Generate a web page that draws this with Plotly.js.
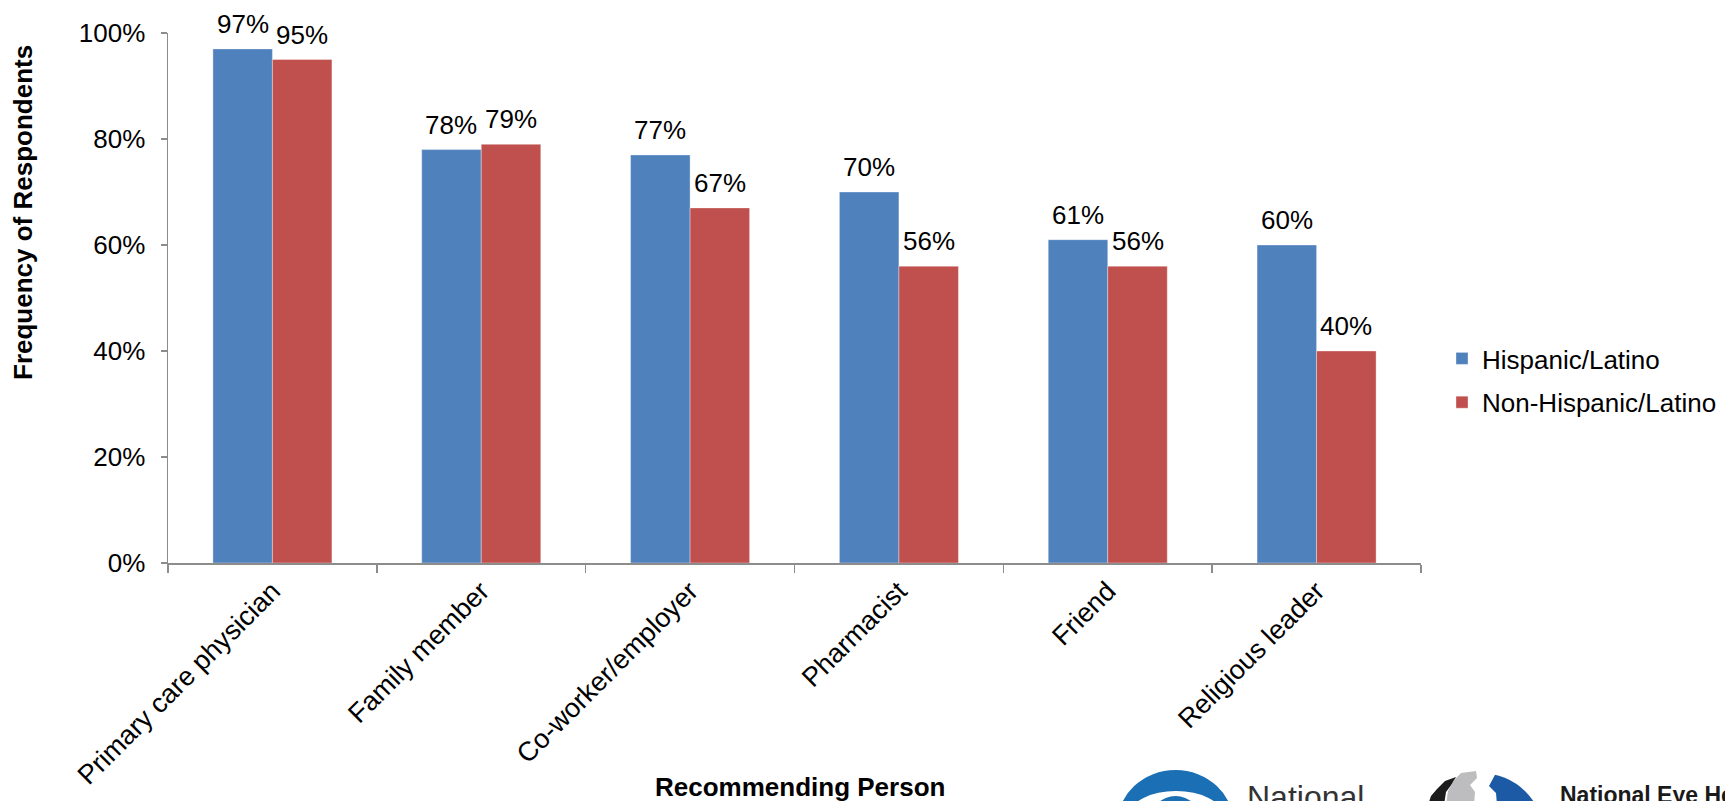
<!DOCTYPE html>
<html>
<head>
<meta charset="utf-8">
<script src="https://cdn.plot.ly/plotly-3.0.1.min.js"></script>
<style>
  html, body { margin: 0; padding: 0; background: #ffffff; overflow: hidden; }
  #chart { width: 1725px; height: 801px; }
</style>
</head>
<body>
<div id="chart"></div>
<script>
// ---- Data ----
const categories = ["Primary care physician", "Family member", "Co-worker/employer", "Pharmacist", "Friend", "Religious leader"];
const hispanicValues = [0.97, 0.78, 0.77, 0.70, 0.61, 0.60];
const nonHispanicValues = [0.95, 0.79, 0.67, 0.56, 0.56, 0.40];
const seriesNames = ["Hispanic/Latino", "Non-Hispanic/Latino"];
const yTickValues = [0, 0.2, 0.4, 0.6, 0.8, 1.0];
const yAxisTitle = "Frequency of Respondents";
const xAxisTitle = "Recommending Person";
const logoText1 = "National";
const logoText2 = "National Eye Health Education Program";

// ---- Layout helpers (plot area: x 168..1421, y 33..563 in pixels) ----
const L = 168, R = 1421, T = 33, B = 563;
const W = 1725, H = 801;
const BARGAP = 0.43;
function PX(px) { return (px - L) / (R - L); }
function PY(py) { return (B - py) / (B - T); }
function pts(list) { return list.map(p => PX(p[0]) + "," + PY(p[1])).join(" L "); }
function poly(list) { return "M " + pts(list) + " Z"; }

const FONT = "Liberation Sans, Arial, Helvetica, sans-serif";
const BLUE = "#4F81BD";
const RED = "#C0504D";
const AXIS = "#8c8c8c";

const pct = v => Math.round(v * 100) + "%";

const traces = [
  {
    type: "bar", name: seriesNames[0], x: categories, y: hispanicValues,
    marker: { color: BLUE, line: { color: "rgba(255,255,255,0.35)", width: 1 } },
    legendgroup: "a", hoverinfo: "x+y"
  },
  {
    type: "bar", name: seriesNames[1], x: categories, y: nonHispanicValues,
    marker: { color: RED, line: { color: "rgba(255,255,255,0.35)", width: 1 } },
    legendgroup: "b", hoverinfo: "x+y"
  }
];

// data labels centred over each bar of the group
const barHalfOffset = ((R - L) / categories.length) * (1 - BARGAP) / 4;
const labelAnnotations = [];
[hispanicValues, nonHispanicValues].forEach((vals, s) => {
  vals.forEach((v, i) => {
    labelAnnotations.push({
      text: pct(v), x: categories[i], y: v, xref: "x", yref: "y",
      xshift: (s === 0 ? -1 : 1) * barHalfOffset, yshift: 8,
      xanchor: "center", yanchor: "bottom", showarrow: false,
      font: { family: FONT, size: 26, color: "#000" }
    });
  });
});

const shapes = [
  // Logo 1 (eye) : blue dome with white eye and iris
  { type: "circle", xref: "paper", yref: "paper", x0: PX(1117), x1: PX(1234), y0: PY(880), y1: PY(770),
    fillcolor: "#1a6fb5", line: { width: 0 }, layer: "above" },
  { type: "circle", xref: "paper", yref: "paper", x0: PX(1130), x1: PX(1222), y0: PY(838), y1: PY(791),
    fillcolor: "#ffffff", line: { width: 0 }, layer: "above" },
  { type: "circle", xref: "paper", yref: "paper", x0: PX(1150), x1: PX(1201), y0: PY(846), y1: PY(796),
    fillcolor: "#1a6fb5", line: { width: 0 }, layer: "above" },
  // Logo 2: blue circle with gray and black swooshes
  { type: "circle", xref: "paper", yref: "paper", x0: PX(1417), x1: PX(1544), y0: PY(899), y1: PY(773),
    fillcolor: "#1d5aa5", line: { width: 0 }, layer: "above" },
  { type: "path", xref: "paper", yref: "paper", layer: "above", line: { width: 0 }, fillcolor: "#ffffff",
    path: poly([[1412, 805], [1412, 760], [1498, 760], [1496, 773], [1489, 786], [1496, 793], [1497, 805]]) },
  { type: "path", xref: "paper", yref: "paper", layer: "above", line: { width: 0 }, fillcolor: "#1c1c1c",
    path: poly([[1428, 805], [1431, 796], [1437, 789], [1445, 781], [1456, 777], [1452, 784], [1446, 792], [1444, 805]]) },
  { type: "path", xref: "paper", yref: "paper", layer: "above", line: { width: 0 }, fillcolor: "#bdbdbf",
    path: poly([[1446, 805], [1448, 791], [1454, 780], [1461, 773], [1476, 771], [1477, 778], [1470, 785], [1475, 792], [1474, 805]]) }
];

const annotations = labelAnnotations.concat([
  { text: "<b>" + yAxisTitle + "</b>", xref: "paper", yref: "paper", x: PX(23), y: PY(213),
    textangle: -90, showarrow: false, font: { family: FONT, size: 26, color: "#000" },
    xanchor: "center", yanchor: "middle" },
  { text: "<b>" + xAxisTitle + "</b>", xref: "paper", yref: "paper", x: PX(800), y: PY(787),
    showarrow: false, font: { family: FONT, size: 26, color: "#000" },
    xanchor: "center", yanchor: "middle" },
  { text: logoText1, xref: "paper", yref: "paper", x: PX(1245), y: PY(777),
    showarrow: false, font: { family: FONT, size: 32, color: "#333333" },
    xanchor: "left", yanchor: "top" },
  { text: "<b>" + logoText2 + "</b>", xref: "paper", yref: "paper", x: PX(1558), y: PY(780),
    showarrow: false, font: { family: FONT, size: 23, color: "#1a1a1a" },
    xanchor: "left", yanchor: "top" }
]);

const layout = {
  width: W, height: H,
  margin: { l: L, r: W - R, t: T, b: H - B, pad: 0 },
  paper_bgcolor: "#ffffff", plot_bgcolor: "#ffffff",
  font: { family: FONT, size: 26, color: "#000" },
  barmode: "group", bargap: BARGAP, bargroupgap: 0,
  showlegend: true,
  legend: {
    xref: "container", yref: "container",
    x: 1442 / W, y: 1 - 335 / H, xanchor: "left", yanchor: "top",
    font: { family: FONT, size: 26, color: "#000" },
    traceorder: "grouped", tracegroupgap: 7,
    bgcolor: "rgba(0,0,0,0)", itemwidth: 30
  },
  xaxis: {
    type: "category", tickangle: -45, tickson: "boundaries",
    ticks: "outside", ticklen: 8, tickwidth: 1.5, tickcolor: AXIS,
    showline: true, linecolor: AXIS, linewidth: 1.5,
    showgrid: false, zeroline: false, automargin: false,
    tickfont: { family: FONT, size: 27, color: "#000" }
  },
  yaxis: {
    range: [0, 1], tickvals: yTickValues, tickformat: ".0%",
    ticks: "outside", ticklen: 6, tickwidth: 1.5, tickcolor: AXIS,
    showline: true, linecolor: AXIS, linewidth: 1.5,
    showgrid: false, zeroline: false, ticklabelstandoff: 10, automargin: false,
    tickfont: { family: FONT, size: 26, color: "#000" }
  },
  shapes: shapes,
  annotations: annotations
};

Plotly.newPlot("chart", traces, layout, { staticPlot: true, displayModeBar: false });
</script>
</body>
</html>
